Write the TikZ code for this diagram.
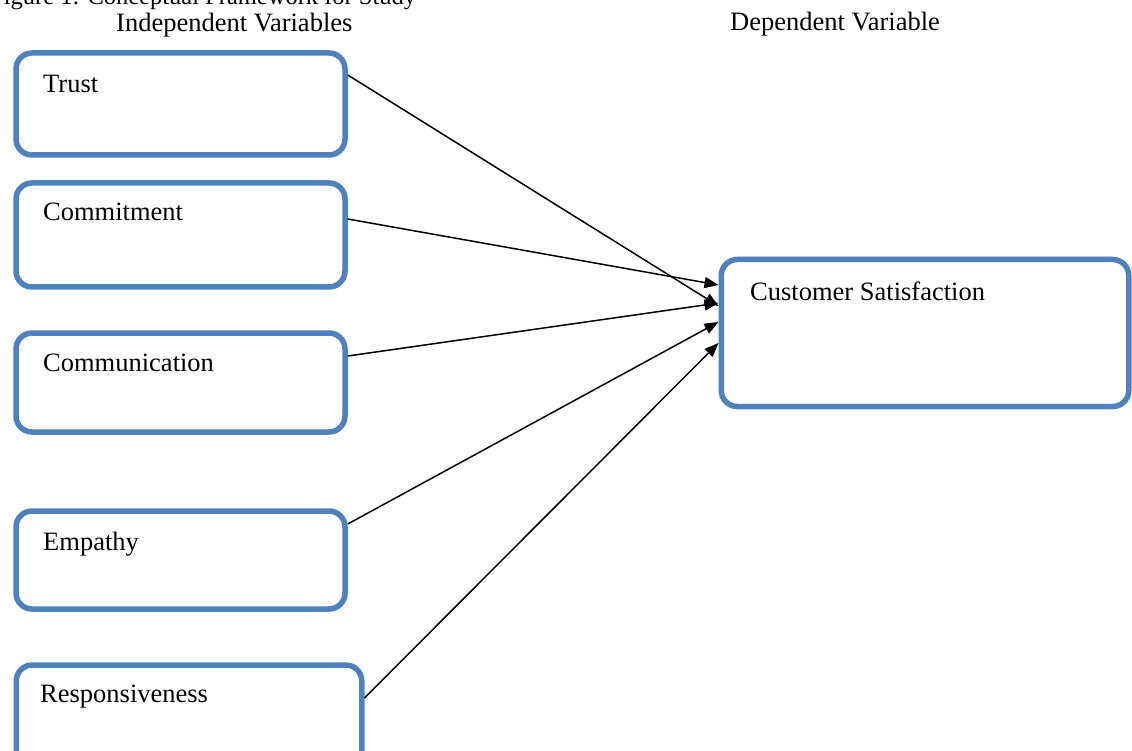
\documentclass[tikz,border=0pt]{standalone}
\usepackage{fontspec}
\setmainfont{Liberation Serif}
\usetikzlibrary{arrows.meta}
\definecolor{boxblue}{RGB}{79,129,189}
\tikzset{
  varbox/.style={draw=boxblue, line width=5.5pt, rounded corners=16pt,
    fill=white, inner sep=0pt},
  txt/.style={anchor=base west, inner sep=0pt,
    font=\fontsize{26.5}{30}\selectfont},
  link/.style={draw=black, line width=1.5pt,
    -{Triangle[length=14pt,width=11pt]}}
}
\begin{document}
\begin{tikzpicture}[x=1pt, y=-1pt]
  \clip (0,0) rectangle (1132,751);
  \fill[white] (0,0) rectangle (1132,751);

  % caption line, cut by the top edge of the page
  \node[txt, font=\fontsize{24.5}{28}\selectfont] (caption) at (-10,5)
    {Figure 1: Conceptual Framework for Study};

  % column headings
  \node[txt] (indep) at (116,32) {Independent Variables};
  \node[txt] (dep) at (730,31) {Dependent Variable};

  % independent variables
  \node[varbox, minimum width=329pt, minimum height=102pt] (trust) at (180.5,104) {};
  \node[varbox, minimum width=329pt, minimum height=104pt] (commit) at (180.5,235) {};
  \node[varbox, minimum width=329pt, minimum height=99pt] (comm) at (180.5,382.5) {};
  \node[varbox, minimum width=329pt, minimum height=98pt] (emp) at (180.5,560) {};
  \node[varbox, minimum width=345.5pt, minimum height=105pt] (resp) at (189,717.5) {};

  % dependent variable
  \node[varbox, minimum width=407.5pt, minimum height=147pt] (cs) at (925,333) {};

  % labels
  \node[txt] (ltrust) at (43,93) {Trust};
  \node[txt] (lcommit) at (43,221) {Commitment};
  \node[txt] (lcomm) at (43,371) {Communication};
  \node[txt] (lemp) at (43,550) {Empathy};
  \node[txt] (lresp) at (40,702) {Responsiveness};
  \node[txt] (lcs) at (750,300) {Customer Satisfaction};

  % relationships
  \draw[link] ([yshift=29pt]trust.east) -- ([yshift=27pt]cs.west);
  \draw[link] ([yshift=16pt]commit.east) -- ([yshift=48pt]cs.west);
  \draw[link] ([yshift=26.5pt]comm.east) -- ([yshift=30pt]cs.west);
  \draw[link] ([yshift=36pt]emp.east) -- ([yshift=11pt]cs.west);
  \draw[link] ([yshift=19.5pt]resp.east) -- ([yshift=-10pt]cs.west);
\end{tikzpicture}
\end{document}
